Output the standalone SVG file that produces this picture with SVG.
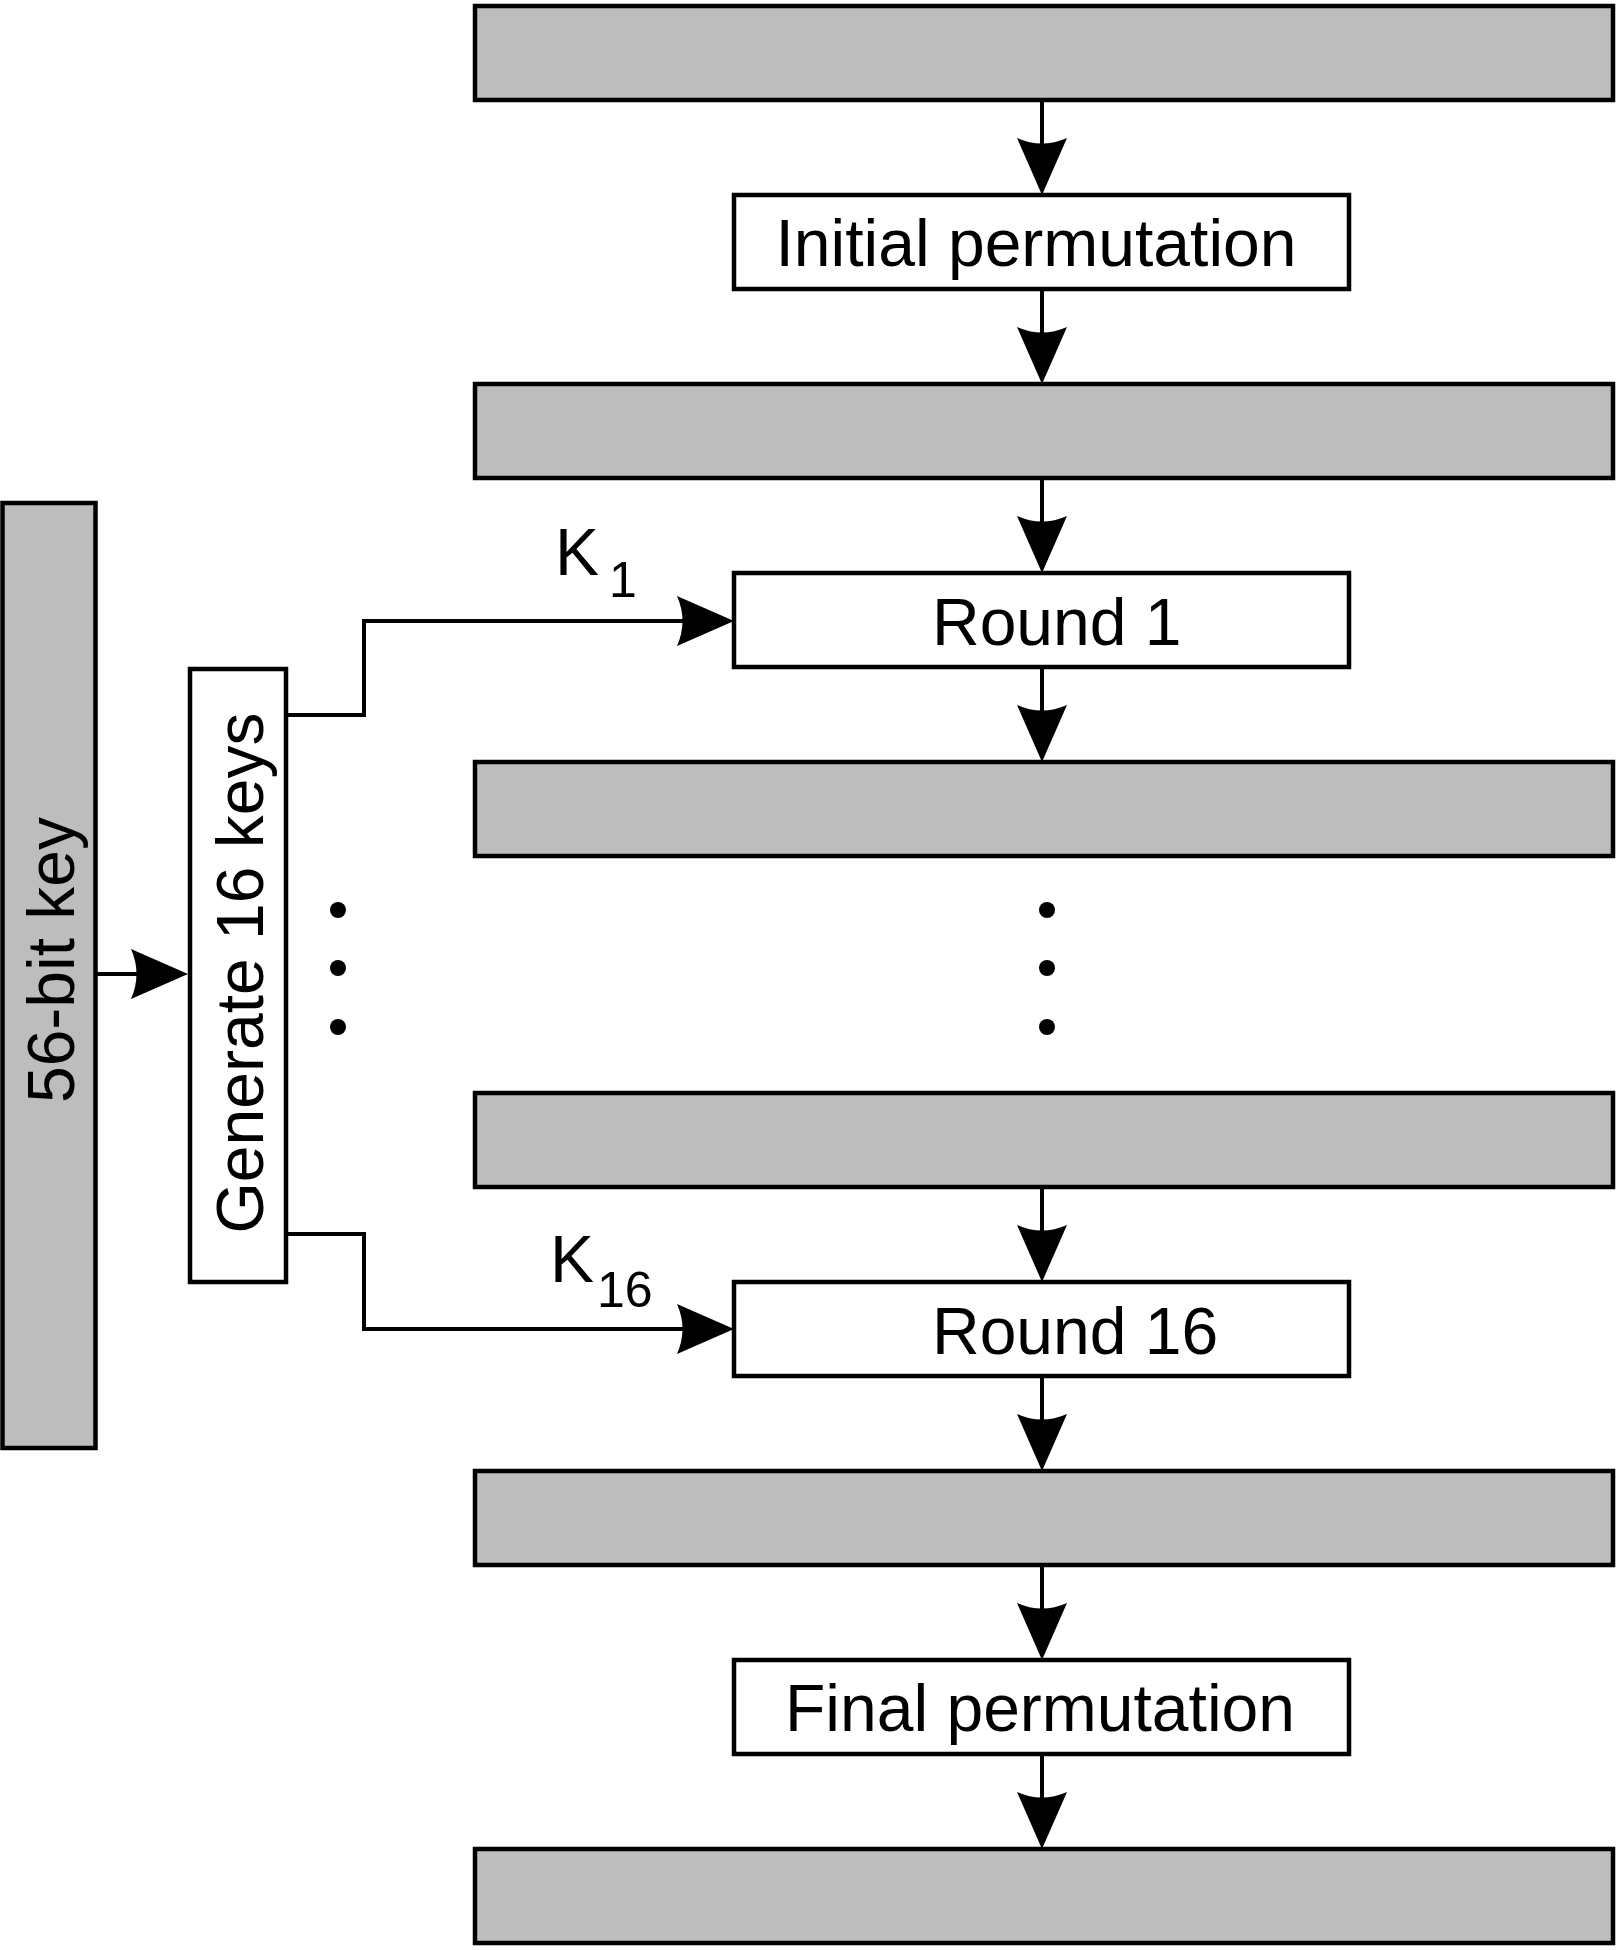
<svg xmlns="http://www.w3.org/2000/svg" width="1617" height="1950" viewBox="0 0 1617 1950">
<style>
.g{fill:#bdbdbd;stroke:#000;stroke-width:4.5}
.w{fill:#fff;stroke:#000;stroke-width:4.5}
.t{font-family:"Liberation Sans",Arial,Helvetica,sans-serif;font-size:66px;fill:#000}
.s{font-family:"Liberation Sans",Arial,Helvetica,sans-serif;font-size:50px;fill:#000}
.c{fill:none;stroke:#000;stroke-width:4;marker-end:url(#arr)}
.d{fill:#000}
</style>
<defs>
<marker id="arr" markerUnits="userSpaceOnUse" viewBox="-60 -27 62 54" refX="-20" refY="0" markerWidth="62" markerHeight="54" orient="auto" overflow="visible">
<path d="M0,0 L-57,-25 Q-46,0 -57,25 Z" fill="#000"/>
</marker>
</defs>
<rect width="1617" height="1950" fill="#fff"/>
<g id="connectors">
<path class="c" d="M1042,100 V175"/>
<path class="c" d="M1042,289 V364"/>
<path class="c" d="M1042,478 V553"/>
<path class="c" d="M1042,667 V742"/>
<path class="c" d="M1042,1187 V1262"/>
<path class="c" d="M1042,1376 V1451"/>
<path class="c" d="M1042,1565 V1640"/>
<path class="c" d="M1042,1754 V1829"/>
<path class="c" d="M97,974 H168"/>
<path class="c" d="M287,715 H364 V621 H714"/>
<path class="c" d="M287,1234 H364 V1329 H714"/>
</g>
<g id="block0"><rect class="g" x="475" y="6" width="1138" height="94"/></g>
<g id="initial-permutation"><rect class="w" x="734" y="195" width="615" height="94"/><text class="t" x="1036" y="266" text-anchor="middle">Initial permutation</text></g>
<g id="block1"><rect class="g" x="475" y="384" width="1138" height="94"/></g>
<g id="round1"><rect class="w" x="734" y="573" width="615" height="94"/><text class="t" x="932" y="645">Round 1</text></g>
<g id="block2"><rect class="g" x="475" y="762" width="1138" height="94"/></g>
<g id="block15"><rect class="g" x="475" y="1093" width="1138" height="94"/></g>
<g id="round16"><rect class="w" x="734" y="1282" width="615" height="94"/><text class="t" x="932" y="1354">Round 16</text></g>
<g id="block16"><rect class="g" x="475" y="1471" width="1138" height="94"/></g>
<g id="final-permutation"><rect class="w" x="734" y="1660" width="615" height="94"/><text class="t" x="1040" y="1731" text-anchor="middle">Final permutation</text></g>
<g id="block17"><rect class="g" x="475" y="1849" width="1138" height="94"/></g>
<g id="key56"><rect class="g" x="2.5" y="503" width="93" height="945"/><text class="t" transform="translate(74,960) rotate(-90)" text-anchor="middle">56-bit key</text></g>
<g id="generate"><rect class="w" x="190" y="669" width="96" height="613"/><text class="t" transform="translate(263,973) rotate(-90)" text-anchor="middle">Generate 16 keys</text></g>
<g id="label-k1"><text class="t" x="555" y="575">K</text><text class="s" x="609" y="597">1</text></g>
<g id="label-k16"><text class="t" x="550" y="1282">K</text><text class="s" x="597" y="1307">16</text></g>
<g id="dots-left"><circle class="d" cx="338" cy="910" r="8"/><circle class="d" cx="338" cy="968" r="8"/><circle class="d" cx="338" cy="1027" r="8"/></g>
<g id="dots-right"><circle class="d" cx="1047" cy="910" r="8"/><circle class="d" cx="1047" cy="968" r="8"/><circle class="d" cx="1047" cy="1027" r="8"/></g>
</svg>
